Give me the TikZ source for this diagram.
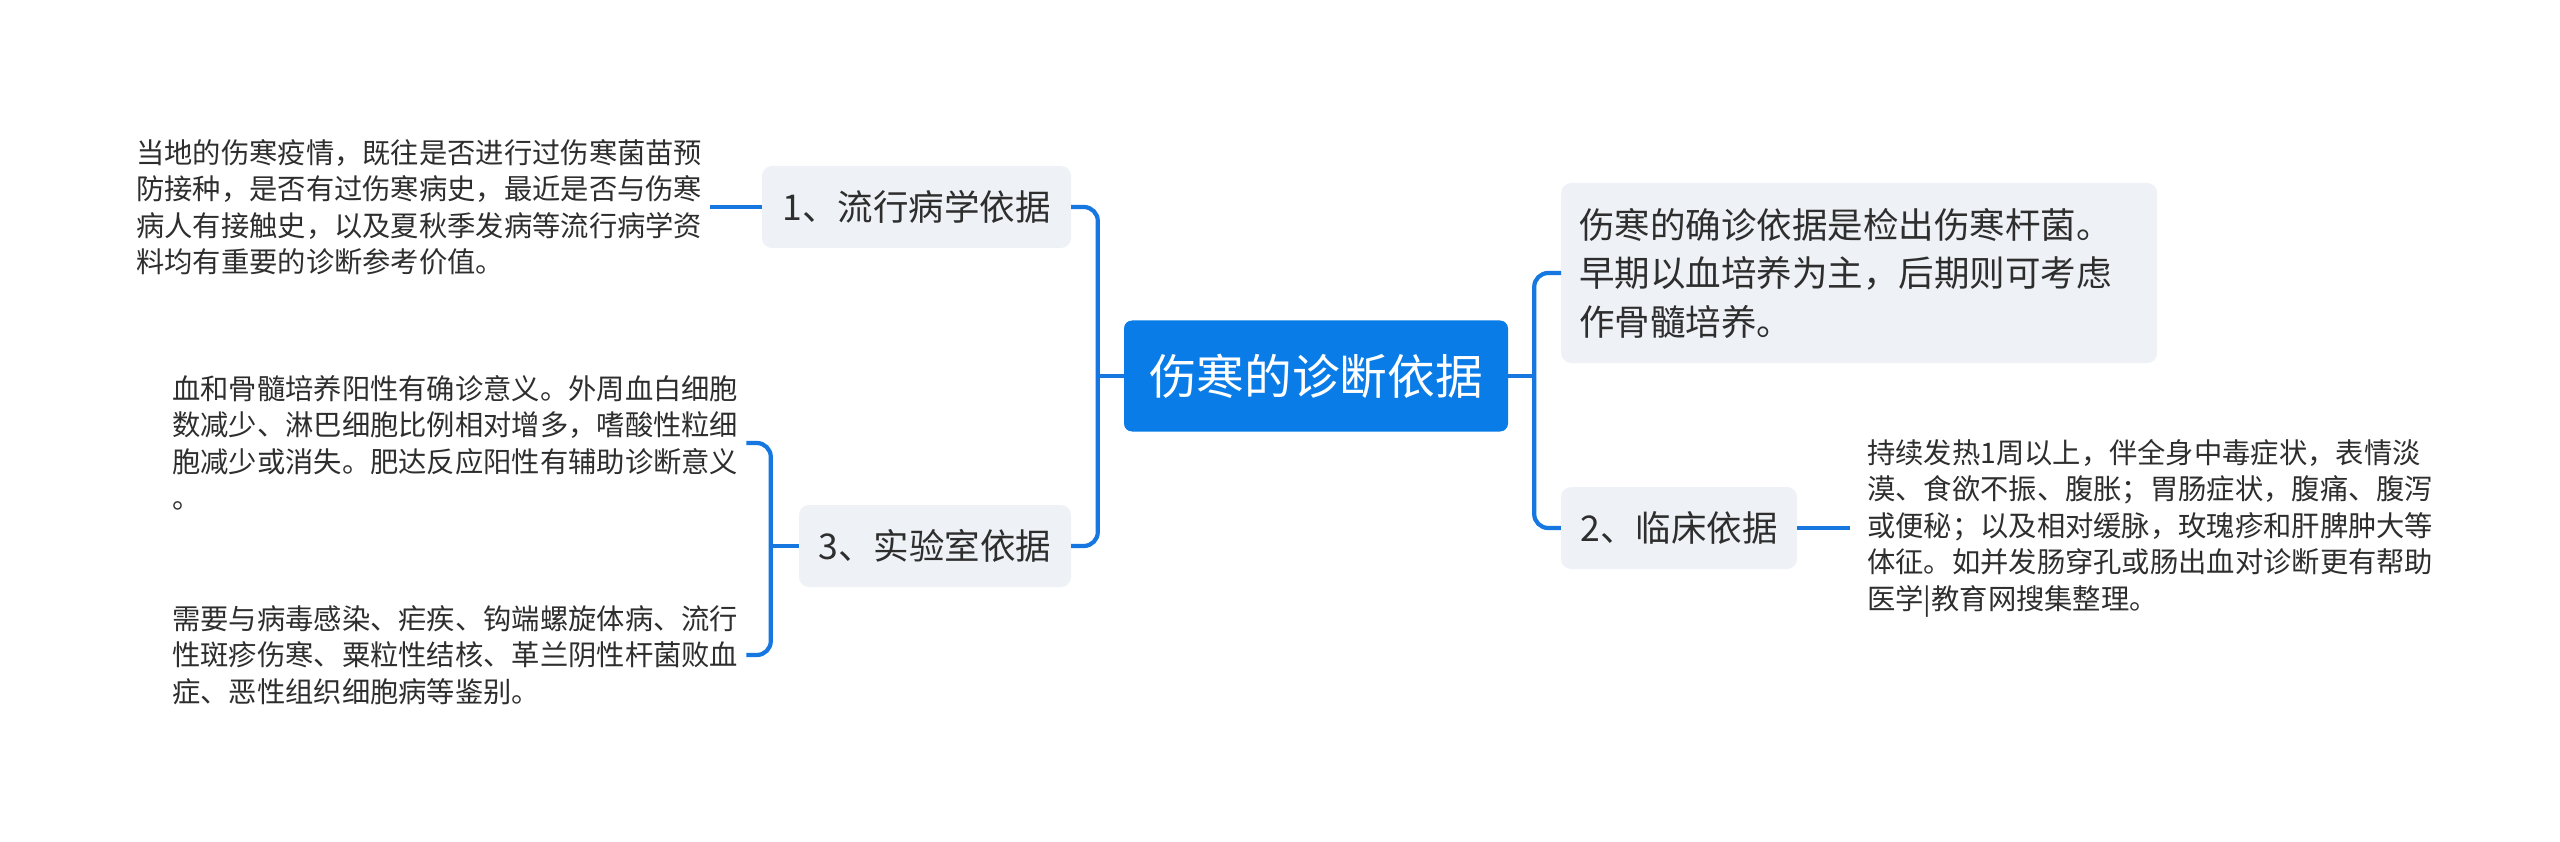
\documentclass[tikz,border=0pt]{standalone}
\usepackage{fontspec}
\setmainfont{Noto Sans CJK SC}
\usepackage{tikz}
\definecolor{mapblue}{HTML}{0A7CE8}
\definecolor{linkblue}{HTML}{1677E0}
\definecolor{boxgray}{HTML}{EEF1F5}
\definecolor{inkgray}{HTML}{2E2E2E}

\begin{document}
\begin{tikzpicture}[x=1pt, y=-1pt,
			every node/.style = {align=left, text=inkgray},
			topic/.style = {rounded corners=8pt, fill=mapblue, text=white, font=\fontsize{47.7}{60}\selectfont, minimum width=384pt, minimum height=111pt, inner sep=0pt},
			branch/.style = {rounded corners=10pt, fill=boxgray, font=\fontsize{35.5}{48.5}\selectfont, minimum height=82pt, inner sep=0pt},
			note/.style = {font=\fontsize{28.3}{36.5}\selectfont, inner sep=8pt}]
			\tikzset{link/.style = {draw=linkblue, line width=4.2pt, rounded corners=14pt}}
			\useasboundingbox[fill=white] (0,0) rectangle (2560,842);
			\node[topic] (root) at (1316,376) {伤寒的诊断依据};
			\node[branch, minimum width=309pt] (epi) at (916.5,207) {1、流行病学依据};
			\node[branch, minimum width=272pt] (lab) at (935,546) {3、实验室依据};
			\node[branch, anchor=west, text width=560pt, inner xsep=18pt, minimum height=180pt] (confirm) at (1561,273) {伤寒的确诊依据是检出伤寒杆菌。\\早期以血培养为主，后期则可考虑\\作骨髓培养。};
			\node[branch, minimum width=236pt] (clin) at (1679,528) {2、临床依据};
			\node[note, anchor=west] (epinote) at (128,207) {当地的伤寒疫情，既往是否进行过伤寒菌苗预\\防接种，是否有过伤寒病史，最近是否与伤寒\\病人有接触史，以及夏秋季发病等流行病学资\\料均有重要的诊断参考价值。};
			\node[note, anchor=west] (labnote) at (164,443) {血和骨髓培养阳性有确诊意义。外周血白细胞\\数减少、淋巴细胞比例相对增多，嗜酸性粒细\\胞减少或消失。肥达反应阳性有辅助诊断意义\\。};
			\node[note, anchor=west] (diffnote) at (164,655) {需要与病毒感染、疟疾、钩端螺旋体病、流行\\性斑疹伤寒、粟粒性结核、革兰阴性杆菌败血\\症、恶性组织细胞病等鉴别。};
			\node[note, anchor=west, inner xsep=17pt] (clinnote) at (1850,528) {持续发热1周以上，伴全身中毒症状，表情淡\\漠、食欲不振、腹胀；胃肠症状，腹痛、腹泻\\或便秘；以及相对缓脉，玫瑰疹和肝脾肿大等\\体征。如并发肠穿孔或肠出血对诊断更有帮助\\医学|教育网搜集整理。};
			\coordinate (rootr) at ([xshift=26pt]root.east);
			\coordinate (rootl) at ([xshift=-26pt]root.west);
			\coordinate (labl) at ([xshift=-28pt]lab.west);
			\draw[link] (root.east) -- (rootr);
			\draw[link] (rootr) |- (confirm.west);
			\draw[link] (rootr) |- (clin.west);
			\draw[link] (root.west) -- (rootl);
			\draw[link] (rootl) |- (epi.east);
			\draw[link] (rootl) |- (lab.east);
			\draw[link] (epi.west) -- (epinote.east);
			\draw[link] (lab.west) -- (labl);
			\draw[link] (labl) |- (labnote.east);
			\draw[link] (labl) |- (diffnote.east);
			\draw[link] (clin.east) -- (clinnote.west);
\end{tikzpicture}
\end{document}
